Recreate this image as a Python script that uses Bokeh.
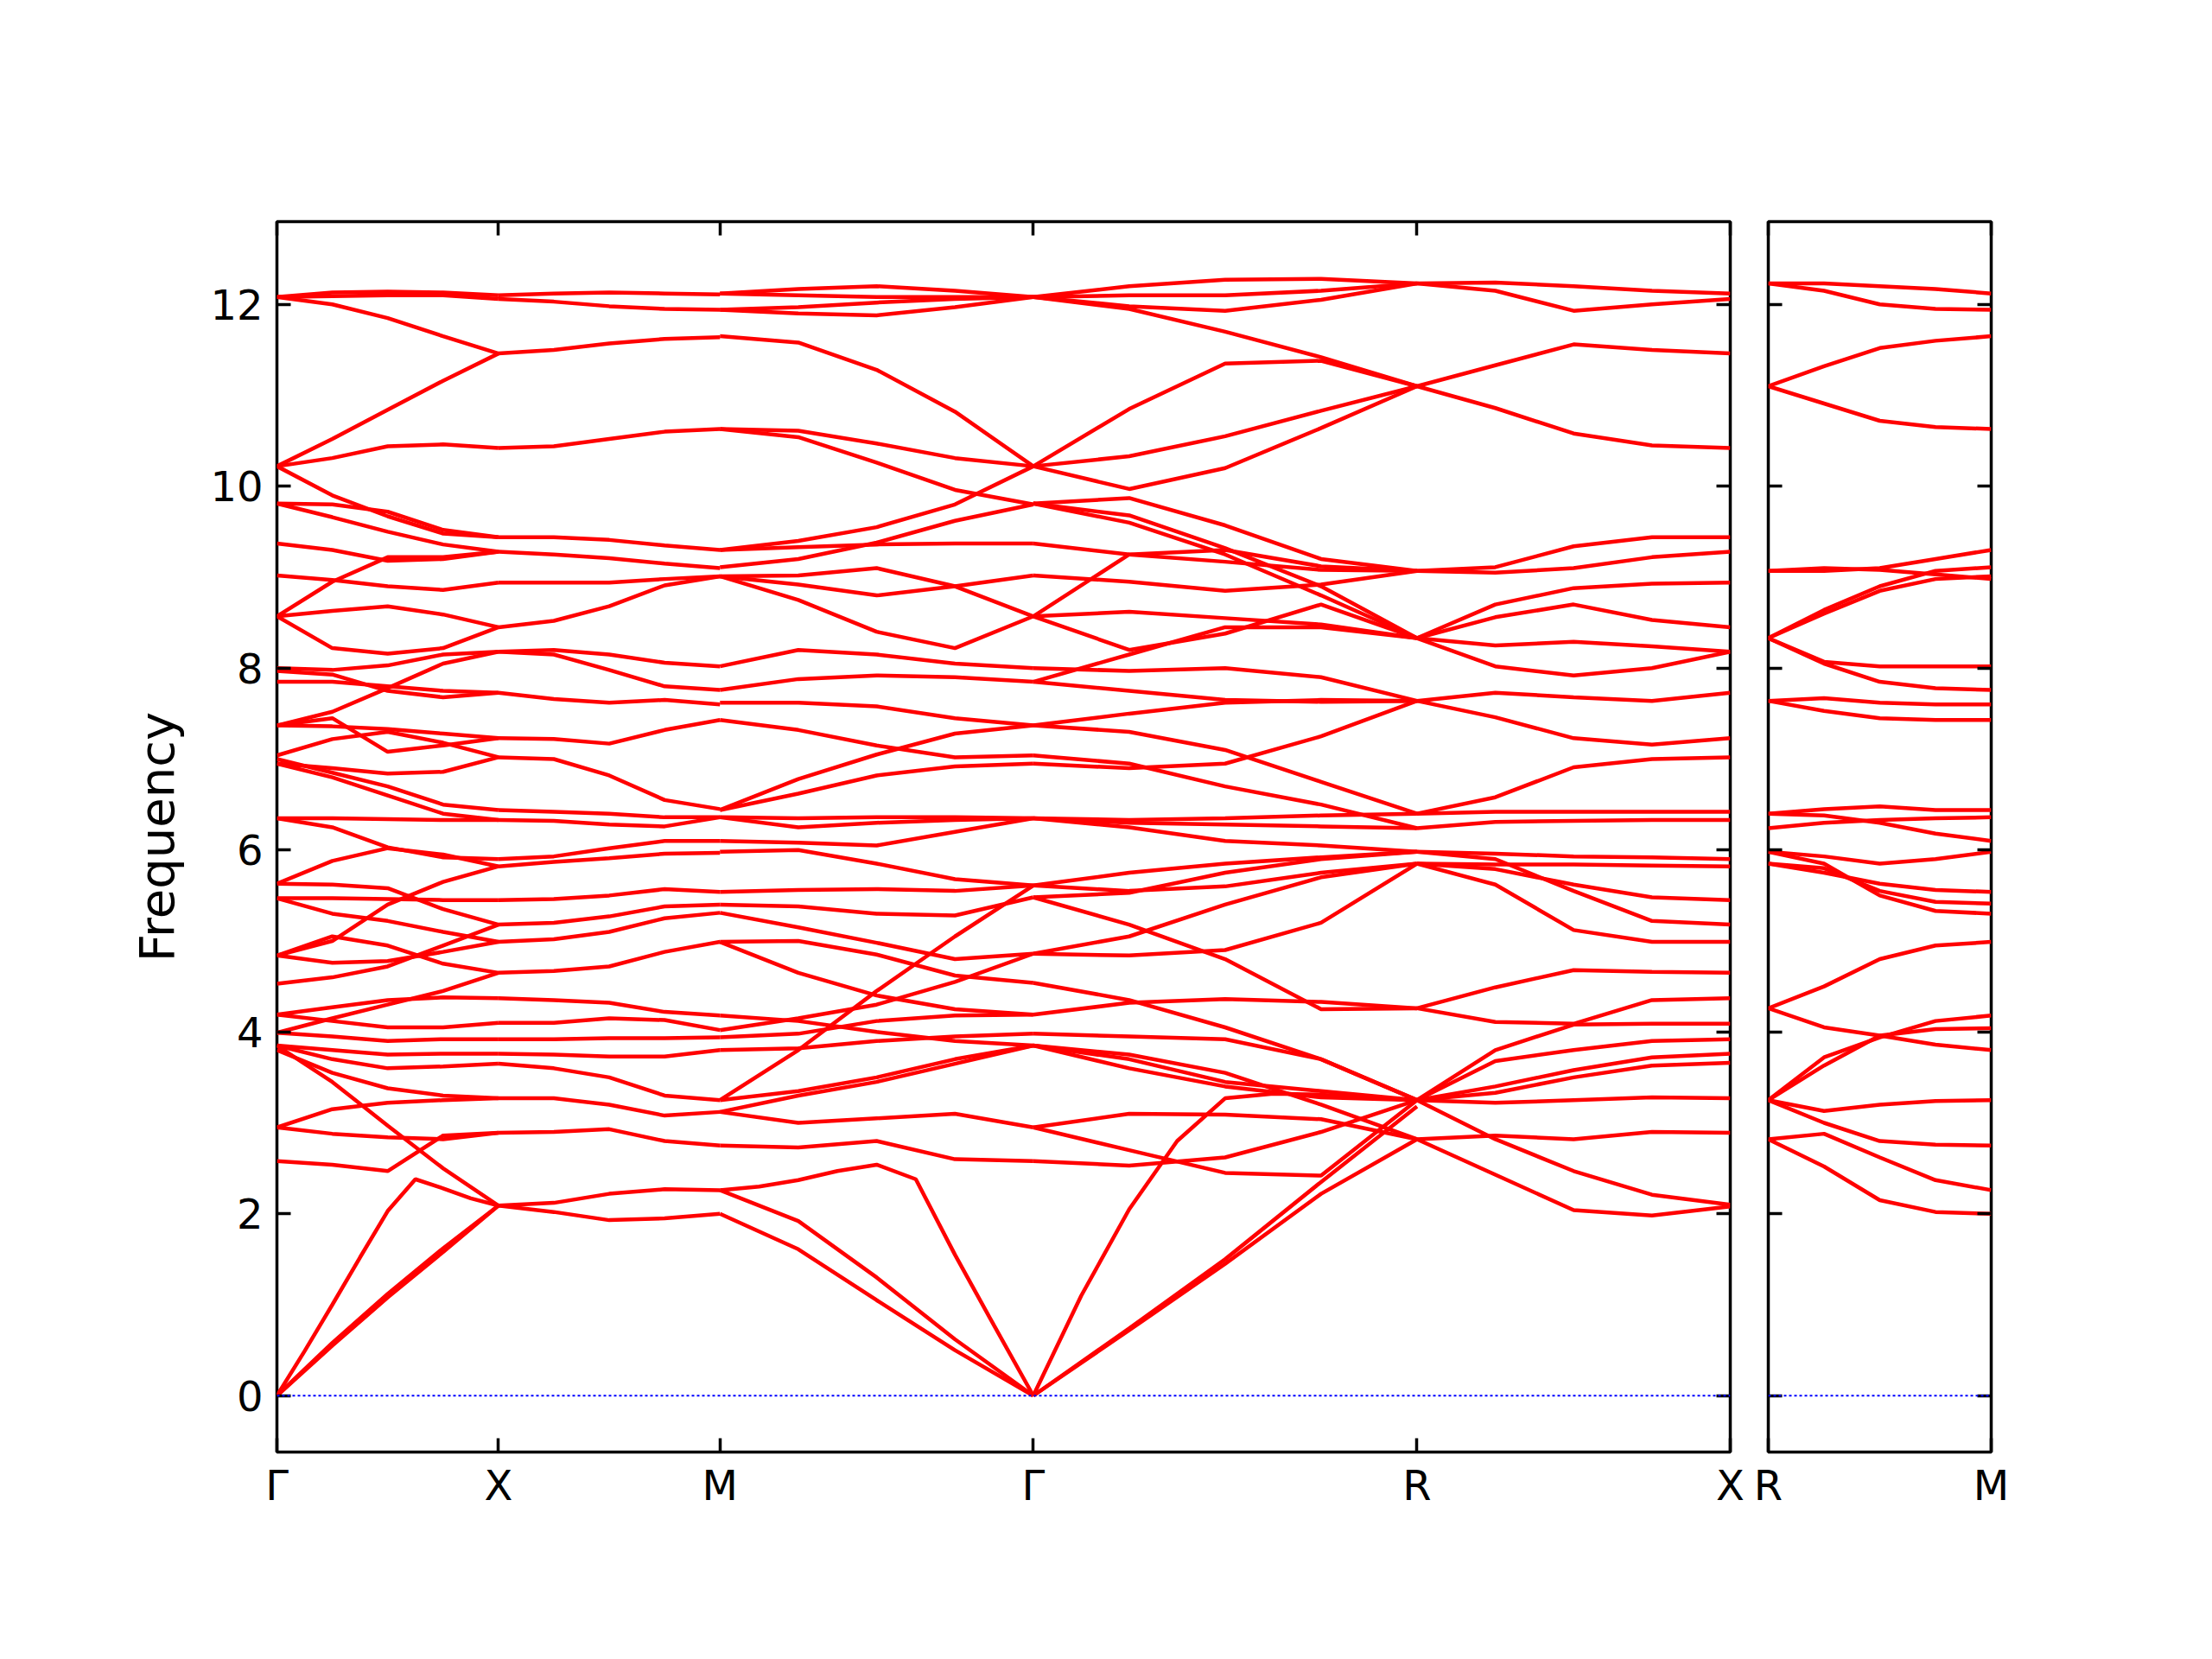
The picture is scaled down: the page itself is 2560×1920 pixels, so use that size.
from bokeh.plotting import figure
from bokeh.models import Range1d, FixedTicker, LinearAxis, Span
from bokeh.layouts import row
from bokeh.embed import file_html
from bokeh.resources import INLINE

# ---------------- data ----------------
main_labels = ["Γ", "X", "M", "Γ", "R", "X"]
main_ticks = [0.0, 0.5, 1.0, 1.7071, 2.5731, 3.2802]
side_labels = ["R", "M"]
side_ticks = [0.0, 0.5]
y_ticks = [0, 2, 4, 6, 8, 10, 12]

# Gamma -> X
gx_bands = [
    [12.08, 12.13, 12.14, 12.13, 12.10],
    [12.08, 12.09, 12.10, 12.10, 12.06],
    [12.08, 12.00, 11.85, 11.65, 11.46],
    [10.22, 10.52, 10.84, 11.16, 11.46],
    [10.22, 10.31, 10.44, 10.46, 10.42],
    [10.22, 9.90, 9.67, 9.48, 9.44],
    [9.81, 9.80, 9.72, 9.52, 9.44],
    [9.81, 9.66, 9.50, 9.36, 9.28],
    [9.37, 9.30, 9.18, 9.20, 9.28],
    [8.57, 8.95, 9.22, 9.22, 9.28],
    [9.02, 8.97, 8.90, 8.86, 8.94],
    [8.57, 8.63, 8.68, 8.59, 8.45],
    [8.57, 8.22, 8.16, 8.22, 8.45],
    [8.00, 7.98, 8.03, 8.15, 8.18],
    [7.97, 7.93, 7.75, 7.68, 7.73],
    [7.85, 7.85, 7.80, 7.75, 7.73],
    [7.37, 7.52, 7.78, 8.05, 8.18],
    [7.37, 7.45, 7.08, 7.15, 7.23],
    [7.37, 7.36, 7.33, 7.28, 7.23],
    [7.04, 7.22, 7.30, 7.18, 7.02],
    [6.95, 6.90, 6.84, 6.86, 7.02],
    [7.00, 6.85, 6.70, 6.50, 6.44],
    [6.95, 6.80, 6.60, 6.40, 6.33],
    [6.35, 6.35, 6.34, 6.33, 6.33],
    [6.35, 6.25, 6.03, 5.92, 5.90],
    [5.63, 5.88, 6.02, 5.95, 5.82],
    [5.63, 5.62, 5.58, 5.35, 5.18],
    [5.47, 5.47, 5.46, 5.45, 5.45],
    [5.47, 5.30, 5.22, 5.10, 4.99],
    [4.84, 5.00, 5.40, 5.65, 5.82],
    [4.84, 5.05, 4.95, 4.75, 4.65],
    [4.84, 4.76, 4.78, 4.88, 4.99],
    [4.53, 4.60, 4.72, 4.95, 5.18],
    [4.19, 4.27, 4.35, 4.38, 4.37],
    [4.19, 4.12, 4.05, 4.05, 4.10],
    [3.99, 4.15, 4.30, 4.45, 4.65],
    [3.99, 3.95, 3.90, 3.92, 3.92],
    [3.85, 3.80, 3.75, 3.76, 3.76],
    [3.85, 3.70, 3.60, 3.62, 3.65],
    [3.85, 3.45, 2.97, 2.50, 2.09],
    [3.80, 3.55, 3.38, 3.30, 3.27],
    [2.95, 3.15, 3.22, 3.25, 3.27],
    [2.95, 2.88, 2.84, 2.82, 2.89],
    [2.58, 2.54, 2.47, 2.86, 2.89],
    [0.0, 0.49, 1.00, 1.52, 2.03, 2.38, 2.28, 2.17, 2.09],
    [0.0, 0.58, 1.12, 1.62, 2.09],
    [0.0, 0.55, 1.08, 1.58, 2.09],
]

# X -> M
xm_bands = [
    [12.10, 12.12, 12.13, 12.12, 12.11],
    [12.06, 12.03, 11.98, 11.95, 11.94],
    [11.46, 11.50, 11.57, 11.62, 11.64],
    [10.42, 10.44, 10.52, 10.60, 10.63],
    [9.44, 9.44, 9.41, 9.35, 9.30],
    [9.28, 9.25, 9.21, 9.15, 9.10],
    [8.94, 8.94, 8.94, 8.98, 9.01],
    [8.45, 8.52, 8.68, 8.91, 9.01],
    [8.18, 8.20, 8.15, 8.06, 8.02],
    [8.18, 8.15, 7.98, 7.80, 7.76],
    [7.73, 7.66, 7.62, 7.65, 7.60],
    [7.23, 7.22, 7.17, 7.32, 7.43],
    [7.02, 7.00, 6.82, 6.55, 6.45],
    [6.44, 6.42, 6.40, 6.36, 6.36],
    [6.33, 6.32, 6.28, 6.26, 6.36],
    [5.90, 5.93, 6.02, 6.10, 6.10],
    [5.82, 5.87, 5.91, 5.96, 5.97],
    [5.45, 5.46, 5.50, 5.57, 5.54],
    [5.18, 5.20, 5.27, 5.38, 5.40],
    [4.99, 5.02, 5.10, 5.25, 5.31],
    [4.65, 4.67, 4.72, 4.88, 4.99],
    [4.37, 4.35, 4.32, 4.22, 4.18],
    [4.10, 4.10, 4.15, 4.13, 4.02],
    [3.92, 3.92, 3.93, 3.93, 3.94],
    [3.76, 3.75, 3.73, 3.73, 3.80],
    [3.65, 3.60, 3.50, 3.30, 3.25],
    [3.27, 3.27, 3.20, 3.08, 3.12],
    [2.89, 2.90, 2.93, 2.80, 2.75],
    [2.09, 2.12, 2.22, 2.27, 2.26],
    [2.09, 2.02, 1.93, 1.95, 2.00],
]

# M -> Gamma
mg_bands = [
    [12.12, 12.17, 12.20, 12.15, 12.08],
    [12.12, 12.10, 12.08, 12.08, 12.08],
    [11.94, 11.90, 11.88, 11.97, 12.08],
    [11.94, 11.97, 12.02, 12.06, 12.08],
    [11.65, 11.58, 11.28, 10.82, 10.22],
    [10.63, 10.61, 10.47, 10.31, 10.22],
    [10.63, 10.54, 10.26, 9.96, 9.80],
    [9.30, 9.40, 9.55, 9.80, 10.22],
    [9.11, 9.20, 9.38, 9.62, 9.80],
    [9.30, 9.33, 9.36, 9.37, 9.37],
    [9.01, 9.02, 9.10, 8.90, 8.57],
    [9.01, 8.92, 8.80, 8.90, 9.02],
    [9.01, 8.75, 8.40, 8.22, 8.57],
    [8.02, 8.20, 8.15, 8.05, 8.00],
    [7.76, 7.88, 7.92, 7.90, 7.85],
    [7.62, 7.62, 7.58, 7.45, 7.37],
    [7.43, 7.32, 7.15, 7.02, 7.04],
    [6.44, 6.78, 7.05, 7.28, 7.37],
    [6.44, 6.62, 6.82, 6.92, 6.95],
    [6.36, 6.35, 6.36, 6.36, 6.35],
    [6.36, 6.25, 6.30, 6.33, 6.35],
    [6.10, 6.08, 6.05, 6.20, 6.35],
    [5.98, 6.00, 5.85, 5.68, 5.61],
    [5.54, 5.56, 5.57, 5.55, 5.61],
    [5.40, 5.38, 5.30, 5.28, 5.48],
    [5.31, 5.15, 4.98, 4.80, 4.86],
    [4.99, 5.00, 4.85, 4.62, 4.54],
    [3.25, 3.80, 4.45, 5.05, 5.61],
    [4.02, 4.15, 4.30, 4.55, 4.86],
    [3.94, 3.98, 4.12, 4.18, 4.19],
    [3.80, 3.82, 3.90, 3.95, 3.98],
    [4.18, 4.12, 4.00, 3.90, 3.85],
    [4.99, 4.65, 4.40, 4.25, 4.19],
    [3.25, 3.35, 3.50, 3.70, 3.85],
    [3.12, 3.30, 3.45, 3.65, 3.85],
    [3.12, 3.00, 3.05, 3.10, 2.95],
    [2.75, 2.73, 2.80, 2.60, 2.58],
    [2.26, 2.30, 2.37, 2.47, 2.54, 2.38, 1.55, 0.77, 0.0],
    [2.26, 1.92, 1.30, 0.62, 0.0],
    [2.00, 1.61, 1.05, 0.50, 0.0],
]

# Gamma -> R
gr_bands = [
    [12.08, 12.20, 12.27, 12.28, 12.23],
    [12.08, 12.10, 12.10, 12.15, 12.23],
    [12.08, 11.98, 11.93, 12.05, 12.23],
    [12.08, 11.95, 11.70, 11.42, 11.10],
    [10.22, 10.85, 11.35, 11.38, 11.10],
    [10.22, 10.33, 10.55, 10.83, 11.10],
    [10.22, 9.97, 10.20, 10.64, 11.10],
    [9.81, 9.87, 9.57, 9.20, 9.07],
    [9.81, 9.68, 9.32, 8.90, 8.33],
    [9.81, 9.60, 9.25, 8.80, 8.33],
    [9.37, 9.25, 9.17, 9.08, 9.07],
    [8.57, 9.25, 9.30, 9.12, 9.07],
    [9.02, 8.95, 8.85, 8.92, 9.07],
    [8.57, 8.62, 8.55, 8.48, 8.33],
    [8.57, 8.20, 8.38, 8.70, 8.33],
    [7.85, 8.15, 8.45, 8.45, 8.33],
    [8.00, 7.97, 8.00, 7.90, 7.64],
    [7.85, 7.75, 7.65, 7.63, 7.64],
    [7.37, 7.50, 7.62, 7.65, 7.64],
    [7.37, 7.30, 7.10, 6.75, 6.40],
    [7.04, 6.95, 6.70, 6.50, 6.24],
    [6.95, 6.90, 6.95, 7.25, 7.64],
    [6.35, 6.33, 6.35, 6.38, 6.40],
    [6.35, 6.25, 6.10, 6.05, 5.98],
    [6.35, 6.30, 6.28, 6.26, 6.24],
    [5.61, 5.75, 5.85, 5.92, 5.98],
    [5.48, 5.53, 5.75, 5.90, 5.98],
    [5.61, 5.55, 5.60, 5.75, 5.85],
    [5.48, 5.18, 4.80, 4.25, 4.26],
    [4.86, 4.84, 4.90, 5.20, 5.85],
    [4.86, 5.05, 5.40, 5.70, 5.85],
    [4.54, 4.35, 4.05, 3.70, 3.25],
    [4.19, 4.32, 4.36, 4.33, 4.26],
    [3.98, 3.95, 3.92, 3.70, 3.25],
    [3.85, 3.70, 3.45, 3.35, 3.25],
    [3.85, 3.60, 3.40, 3.28, 3.25],
    [3.85, 3.75, 3.55, 3.20, 2.82],
    [2.95, 3.10, 3.09, 3.04, 2.82],
    [2.95, 2.70, 2.45, 2.42, 3.25],
    [2.58, 2.53, 2.62, 2.90, 3.25],
    [0.0, 1.10, 2.05, 2.80, 3.27, 3.32, 3.31, 3.28, 3.25],
    [0.0, 0.72, 1.45, 2.22, 2.82],
    [0.0, 0.74, 1.50, 2.35, 3.18],
]

# R -> X
rx_bands = [
    [12.23, 12.24, 12.20, 12.15, 12.12],
    [12.23, 12.15, 11.93, 12.00, 12.06],
    [11.10, 11.33, 11.56, 11.50, 11.46],
    [11.10, 10.86, 10.58, 10.45, 10.42],
    [9.07, 9.11, 9.34, 9.44, 9.44],
    [9.07, 9.05, 9.10, 9.22, 9.28],
    [8.33, 8.70, 8.88, 8.93, 8.94],
    [8.33, 8.56, 8.70, 8.53, 8.45],
    [8.33, 8.25, 8.29, 8.24, 8.18],
    [8.33, 8.02, 7.92, 8.00, 8.18],
    [7.64, 7.73, 7.68, 7.64, 7.73],
    [7.64, 7.46, 7.23, 7.16, 7.23],
    [6.40, 6.58, 6.91, 7.00, 7.02],
    [6.40, 6.42, 6.42, 6.42, 6.42],
    [6.24, 6.31, 6.32, 6.33, 6.33],
    [5.98, 5.96, 5.93, 5.92, 5.90],
    [5.85, 5.84, 5.84, 5.83, 5.82],
    [5.85, 5.79, 5.62, 5.48, 5.45],
    [5.85, 5.62, 5.12, 4.99, 4.99],
    [5.98, 5.90, 5.55, 5.22, 5.18],
    [4.26, 4.49, 4.68, 4.66, 4.65],
    [4.26, 4.11, 4.09, 4.35, 4.37],
    [3.25, 3.80, 4.08, 4.09, 4.09],
    [3.25, 3.68, 3.80, 3.90, 3.92],
    [3.25, 3.40, 3.58, 3.72, 3.76],
    [3.25, 3.33, 3.50, 3.63, 3.66],
    [3.25, 3.22, 3.25, 3.28, 3.27],
    [2.82, 2.86, 2.82, 2.90, 2.89],
    [3.25, 2.82, 2.47, 2.21, 2.10],
    [2.82, 2.43, 2.04, 1.98, 2.08],
]

# R -> M (side panel)
rm_bands = [
    [12.23, 12.23, 12.20, 12.17, 12.12],
    [12.23, 12.15, 12.00, 11.95, 11.94],
    [11.10, 11.32, 11.52, 11.60, 11.65],
    [11.10, 10.91, 10.72, 10.65, 10.63],
    [9.07, 9.07, 9.10, 9.20, 9.30],
    [9.07, 9.10, 9.08, 9.03, 8.98],
    [8.33, 8.64, 8.90, 9.07, 9.11],
    [8.33, 8.60, 8.85, 8.98, 9.01],
    [8.33, 8.07, 8.02, 8.02, 8.02],
    [8.33, 8.05, 7.85, 7.78, 7.76],
    [7.64, 7.67, 7.62, 7.60, 7.60],
    [7.64, 7.53, 7.45, 7.43, 7.43],
    [6.40, 6.45, 6.48, 6.44, 6.44],
    [6.24, 6.30, 6.33, 6.35, 6.36],
    [6.40, 6.38, 6.30, 6.18, 6.10],
    [5.98, 5.93, 5.85, 5.90, 5.98],
    [5.85, 5.75, 5.63, 5.56, 5.54],
    [5.85, 5.80, 5.55, 5.43, 5.41],
    [5.98, 5.85, 5.50, 5.33, 5.30],
    [4.26, 4.50, 4.80, 4.95, 4.99],
    [4.26, 4.05, 3.96, 3.86, 3.80],
    [3.25, 3.72, 3.94, 4.12, 4.18],
    [3.25, 3.63, 3.96, 4.03, 4.04],
    [3.25, 3.13, 3.20, 3.24, 3.25],
    [3.25, 3.00, 2.80, 2.76, 2.75],
    [2.82, 2.88, 2.62, 2.37, 2.26],
    [2.82, 2.52, 2.15, 2.02, 2.00],
]

main_segments = [gx_bands, xm_bands, mg_bands, gr_bands, rx_bands]
side_segments = [rm_bands]

# ---------------- helpers ----------------
FONT = "DejaVu Sans"
Y_RANGE = (-0.62, 12.91)


def collect(segments, ticks):
    xs, ys = [], []
    for i, bands in enumerate(segments):
        x0, x1 = ticks[i], ticks[i + 1]
        for b in bands:
            n = len(b)
            xs.append([x0 + (x1 - x0) * j / (n - 1) for j in range(n)])
            ys.append(list(b))
    return xs, ys


def style_axis(ax, ticks, overrides=None, show=True):
    ax.ticker = FixedTicker(ticks=ticks)
    ax.axis_line_color = None
    ax.major_tick_in = 16
    ax.major_tick_out = 0
    ax.major_tick_line_width = 3.5
    ax.major_tick_line_color = "black"
    ax.minor_tick_line_color = None
    if overrides:
        ax.major_label_overrides = overrides
    if show:
        ax.major_label_text_font = FONT
        ax.major_label_text_font_size = "48px"
        ax.major_label_text_color = "black"
    else:
        # tick marks only: labels are not drawn at all
        ax.major_label_text_font_size = "1px"
        ax.major_label_text_color = None
        ax.major_label_text_alpha = 0
        ax.major_label_standoff = 0


def make_fig(segments, ticks, labels, frame_w, bl, br, ylabel, show_y):
    xmax = ticks[-1]
    p = figure(frame_width=frame_w, frame_height=1424,
               x_range=Range1d(ticks[0], xmax), y_range=Range1d(*Y_RANGE),
               output_backend="svg", toolbar_location=None,
               min_border_left=bl, min_border_right=br,
               min_border_top=256, min_border_bottom=200,
               background_fill_color="white", border_fill_color="white")
    p.grid.visible = False
    p.outline_line_color = "black"
    p.outline_line_width = 3.5

    xs, ys = collect(segments, ticks)
    p.multi_line(xs, ys, line_color="#ff0000", line_width=4.5)
    p.add_layout(Span(location=0, dimension="width", line_color="#0000ff",
                      line_width=2, line_dash="3 3"))

    ov = {t: l for t, l in zip(ticks, labels)}
    style_axis(p.xaxis[0], ticks, ov, True)
    p.xaxis[0].major_label_standoff = 10
    style_axis(p.yaxis[0], y_ticks, None, show_y)
    if show_y:
        p.yaxis[0].major_label_standoff = 16
        p.yaxis[0].axis_label = ylabel
        p.yaxis[0].axis_label_text_font = FONT
        p.yaxis[0].axis_label_text_font_style = "normal"
        p.yaxis[0].axis_label_text_font_size = "56px"
        p.yaxis[0].axis_label_text_color = "black"
        p.yaxis[0].axis_label_standoff = 26

    top = LinearAxis()
    style_axis(top, ticks, None, False)
    p.add_layout(top, "above")
    right = LinearAxis()
    style_axis(right, y_ticks, None, False)
    p.add_layout(right, "right")
    return p


p_main = make_fig(main_segments, main_ticks, main_labels, 1682, 320, 22, "Frequency", True)
p_side = make_fig(side_segments, side_ticks, side_labels, 258, 22, 100, None, False)

layout = row(p_main, p_side)
open("out.html", "w").write(file_html(layout, INLINE))
